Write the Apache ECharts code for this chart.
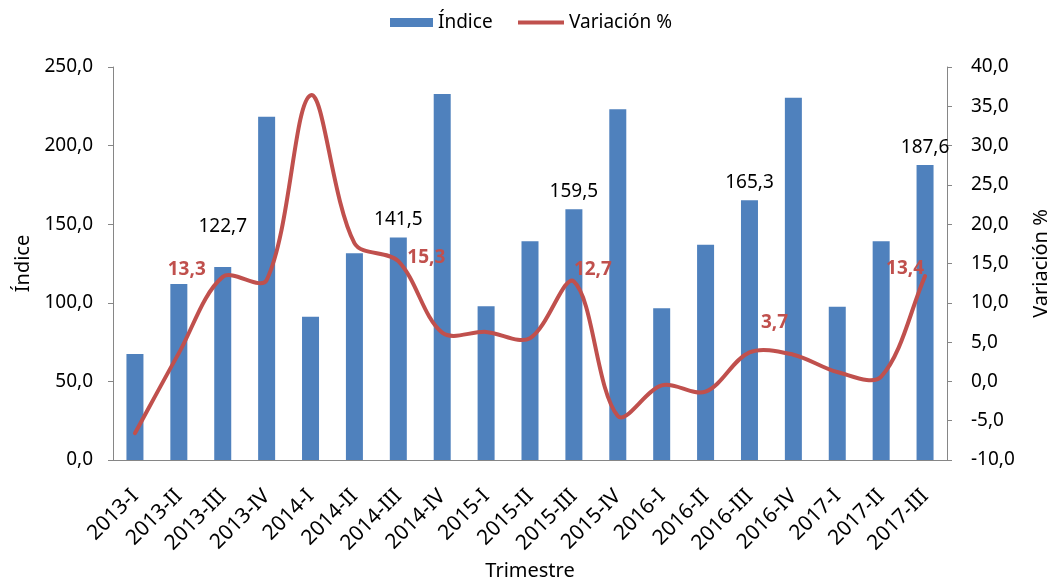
<!DOCTYPE html>
<html>
<head>
<meta charset="utf-8">
<script src="https://cdn.jsdelivr.net/npm/echarts@6/dist/echarts.min.js"></script>
<style>
html,body{margin:0;padding:0;background:#fff;}
#chart{width:1050px;height:578px;}
</style>
</head>
<body>
<div id="chart"></div>
<script>
const categories = ['2013-I','2013-II','2013-III','2013-IV','2014-I','2014-II','2014-III','2014-IV','2015-I','2015-II','2015-III','2015-IV','2016-I','2016-II','2016-III','2016-IV','2017-I','2017-II','2017-III'];
const indice = [67.5, 112.0, 122.7, 218.4, 91.2, 131.5, 141.5, 232.8, 97.8, 139.1, 159.5, 223.1, 96.5, 137.0, 165.3, 230.5, 97.5, 139.1, 187.6];
const variacion = [-6.6, 3.6, 13.3, 12.9, 36.4, 17.6, 15.3, 6.2, 6.3, 5.5, 12.7, -4.4, -0.5, -1.3, 3.7, 3.4, 1.2, 0.6, 13.4];
const labeledIdx = [2, 6, 10, 14, 18];

const FONT = "'Noto Sans', 'Open Sans', sans-serif";
const fmt = v => v.toFixed(1).replace('.', ',');
const RED = '#C0504D';
const BLUE = '#4F81BD';

// label styling (pixel offsets), kept separate from the data
const barLabelOffset = {2: [0, -23]};
const lineLabelOffset = {2: [-36, -7], 6: [28, -4], 10: [19, -12], 14: [25, -30], 18: [-20, -7]};

const barData = indice.map((v, i) => {
  if (labeledIdx.indexOf(i) < 0) return v;
  return {value: v, label: {show: true, position: 'top', distance: 8, offset: barLabelOffset[i] || [0, 0]}};
});

// Excel-like smoothed line (distance-weighted Bezier) drawn through the axis scales
function dist(a, b) { return Math.hypot(b[0] - a[0], b[1] - a[1]); }
function renderLine(params, api) {
  const idx = params.dataIndex;
  const children = [];
  if (idx === 0) {
    const pts = variacion.map((v, i) => api.coord([i, v]));
    const t = 1 / 3;
    let d = 'M' + pts[0][0] + ',' + pts[0][1];
    for (let i = 0; i < pts.length - 1; i++) {
      const p0 = pts[Math.max(0, i - 1)];
      const p1 = pts[i];
      const p2 = pts[i + 1];
      const p3 = pts[Math.min(pts.length - 1, i + 2)];
      const d01 = dist(p0, p1), d12 = dist(p1, p2), d23 = dist(p2, p3);
      const f1 = t * d12 / (d01 + d12);
      const f2 = t * d12 / (d12 + d23);
      const c1x = p1[0] + (p2[0] - p0[0]) * f1;
      const c1y = p1[1] + (p2[1] - p0[1]) * f1;
      const c2x = p2[0] - (p3[0] - p1[0]) * f2;
      const c2y = p2[1] - (p3[1] - p1[1]) * f2;
      d += ' C' + c1x + ',' + c1y + ' ' + c2x + ',' + c2y + ' ' + p2[0] + ',' + p2[1];
    }
    children.push({
      type: 'path',
      shape: {pathData: d},
      style: {stroke: RED, lineWidth: 4, fill: null, lineJoin: 'round', lineCap: 'round'},
      z2: 1
    });
  }
  if (labeledIdx.indexOf(idx) >= 0) {
    const p = api.coord([idx, variacion[idx]]);
    const off = lineLabelOffset[idx];
    children.push({
      type: 'text',
      x: p[0] + off[0],
      y: p[1] + off[1],
      style: {
        text: fmt(variacion[idx]),
        fill: RED,
        font: 'bold 19px ' + FONT,
        align: 'center',
        verticalAlign: 'middle'
      },
      z2: 10
    });
  }
  return {type: 'group', children: children};
}

const axisGrey = '#868686';
const chart = echarts.init(document.getElementById('chart'), null, {renderer: 'canvas'});
chart.setOption({
  animation: false,
  textStyle: {fontFamily: FONT},
  legend: [
    {
      top: 8, left: 385,
      itemWidth: 43, itemHeight: 9,
      textStyle: {fontFamily: FONT, fontSize: 19, color: '#000'},
      data: [{name: 'Índice', icon: 'rect'}]
    },
    {
      top: 8, left: 513,
      itemWidth: 46, itemHeight: 4,
      textStyle: {fontFamily: FONT, fontSize: 19, color: '#000'},
      data: [{name: 'Variación %', icon: 'rect'}]
    }
  ],
  grid: {left: 113, right: 103, top: 67, bottom: 118, outerBoundsMode: 'none', containLabel: false},
  xAxis: {
    type: 'category',
    data: categories,
    name: 'Trimestre',
    nameLocation: 'middle',
    nameGap: 99,
    nameTextStyle: {fontFamily: FONT, fontSize: 20, color: '#000'},
    axisLine: {lineStyle: {color: axisGrey, width: 1}},
    axisTick: {show: false},
    axisLabel: {rotate: 45, fontSize: 21, color: '#000', fontFamily: FONT, margin: 33, interval: 0}
  },
  yAxis: [
    {
      type: 'value', min: 0, max: 250, interval: 50,
      name: 'Índice', nameLocation: 'middle', nameGap: 78,
      nameTextStyle: {fontFamily: FONT, fontSize: 20, color: '#000'},
      axisLine: {show: true, lineStyle: {color: axisGrey}},
      axisTick: {show: true, length: 5, lineStyle: {color: axisGrey}},
      splitLine: {show: false},
      axisLabel: {formatter: fmt, fontSize: 19, color: '#000', fontFamily: FONT, margin: 20}
    },
    {
      type: 'value', min: -10, max: 40, interval: 5,
      name: 'Variación %', nameLocation: 'middle', nameGap: 84,
      nameTextStyle: {fontFamily: FONT, fontSize: 20, color: '#000'},
      axisLine: {show: true, lineStyle: {color: axisGrey}},
      axisTick: {show: true, length: 5, lineStyle: {color: axisGrey}},
      splitLine: {show: false},
      axisLabel: {formatter: fmt, fontSize: 19, color: '#000', fontFamily: FONT, margin: 24}
    }
  ],
  series: [
    {
      name: 'Índice',
      type: 'bar',
      data: barData,
      barWidth: 17,
      itemStyle: {color: BLUE},
      label: {show: false, formatter: p => fmt(p.value), fontSize: 19, color: '#000', fontFamily: FONT}
    },
    {
      name: 'Variación %',
      type: 'custom',
      yAxisIndex: 1,
      data: variacion.map((v, i) => [i, v]),
      encode: {x: 0, y: 1},
      renderItem: renderLine,
      itemStyle: {color: RED},
      clip: false,
      z: 5
    }
  ]
});
</script>
</body>
</html>
